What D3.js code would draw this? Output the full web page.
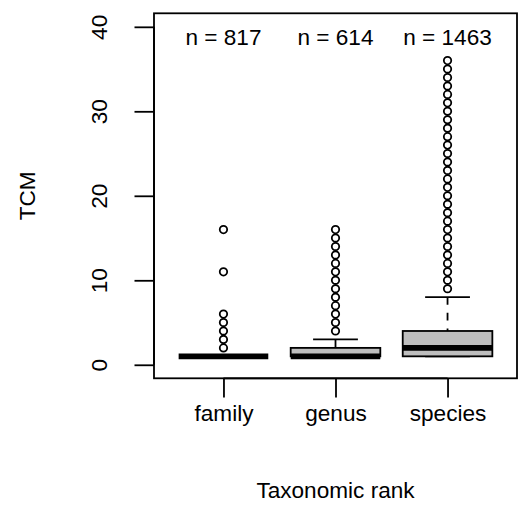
<!DOCTYPE html>
<html>
<head>
<meta charset="utf-8">
<script src="https://cdn.jsdelivr.net/npm/d3@7"></script>
<style>
  html, body { margin: 0; padding: 0; background: #fff; }
  svg { display: block; }
  text { font-family: "Liberation Sans", Arial, Helvetica, sans-serif; fill: #000; }
</style>
</head>
<body>
<svg id="chart" width="519" height="528"></svg>
<script>
// ---- data ----
const categories = ["family", "genus", "species"];
const counts = [817, 614, 1463];
const whiskerLow = [1, 1, 1];
const q1 = [1, 1, 1];
const median = [1, 1, 2];
const q3 = [1, 2, 4];
const whiskerHigh = [1, 3, 8];
const outliers = [
  [2, 3, 4, 5, 6, 11, 16],
  [4, 5, 6, 7, 8, 9, 10, 11, 12, 13, 14, 15, 16],
  [9, 10, 11, 12, 13, 14, 15, 16, 17, 18, 19, 20, 21, 22, 23, 24, 25, 26, 27, 28, 29, 30, 31, 32, 33, 34, 35, 36]
];
const yTicks = [0, 10, 20, 30, 40];
const xLabel = "Taxonomic rank";
const yLabel = "TCM";

// ---- layout ----
const W = 519, H = 528;
const plot = { left: 154, right: 517, top: 13.3, bottom: 378.3 };
const fontSize = 22.6;

const svg = d3.select("#chart");

// R-style 4% extended ranges
const x = d3.scaleLinear().domain([0.38, 3.62]).range([plot.left, plot.right]);
const y = d3.scaleLinear().domain([-1.6, 41.6]).range([plot.bottom, plot.top]);

const lw = 1.8;
const boxW = 0.8, stapleW = 0.4;

const groups = categories.map((c, i) => ({
  name: c, pos: i + 1, n: counts[i],
  lo: whiskerLow[i], q1: q1[i], med: median[i], q3: q3[i], hi: whiskerHigh[i],
  out: outliers[i]
}));

const g = svg.append("g");

groups.forEach(d => {
  const gg = g.append("g");
  // upper whisker (dashed), drawn from whisker end toward box
  if (d.hi > d.q3) {
    gg.append("line")
      .attr("x1", x(d.pos)).attr("x2", x(d.pos))
      .attr("y1", y(d.hi)).attr("y2", y(d.q3))
      .attr("stroke", "#000").attr("stroke-width", lw)
      .attr("stroke-dasharray", "7.6,8");
  }
  if (d.lo < d.q1) {
    gg.append("line")
      .attr("x1", x(d.pos)).attr("x2", x(d.pos))
      .attr("y1", y(d.lo)).attr("y2", y(d.q1))
      .attr("stroke", "#000").attr("stroke-width", lw)
      .attr("stroke-dasharray", "7.6,8");
  }
  // staples
  [d.lo, d.hi].forEach(v => {
    gg.append("line")
      .attr("x1", x(d.pos - stapleW / 2)).attr("x2", x(d.pos + stapleW / 2))
      .attr("y1", y(v)).attr("y2", y(v))
      .attr("stroke", "#000").attr("stroke-width", lw);
  });
  // box
  gg.append("rect")
    .attr("x", x(d.pos - boxW / 2))
    .attr("width", x(d.pos + boxW / 2) - x(d.pos - boxW / 2))
    .attr("y", y(d.q3))
    .attr("height", Math.max(0, y(d.q1) - y(d.q3)))
    .attr("fill", "#bebebe").attr("stroke", "#000").attr("stroke-width", lw);
  // median
  gg.append("line")
    .attr("x1", x(d.pos - boxW / 2)).attr("x2", x(d.pos + boxW / 2))
    .attr("y1", y(d.med)).attr("y2", y(d.med))
    .attr("stroke", "#000").attr("stroke-width", 5.6);
  // outliers
  gg.selectAll("circle").data(d.out).join("circle")
    .attr("cx", x(d.pos)).attr("cy", v => y(v)).attr("r", 3.7)
    .attr("fill", "none").attr("stroke", "#000").attr("stroke-width", 1.8);
  // n label
  gg.append("text")
    .attr("x", x(d.pos)).attr("y", 45)
    .attr("text-anchor", "middle").attr("font-size", fontSize)
    .text("n = " + d.n);
});

// frame
svg.append("rect")
  .attr("x", plot.left).attr("y", plot.top)
  .attr("width", plot.right - plot.left).attr("height", plot.bottom - plot.top)
  .attr("fill", "none").attr("stroke", "#000").attr("stroke-width", lw);

// y axis
const yAxis = svg.append("g")
  .attr("transform", `translate(${plot.left},0)`)
  .call(d3.axisLeft(y).tickValues(yTicks).tickSize(19.5).tickSizeOuter(0).tickFormat(d3.format("d")));
yAxis.select(".domain").attr("d", `M0,${y(yTicks[0])}V${y(yTicks[yTicks.length - 1])}`)
  .attr("stroke", "#000").attr("stroke-width", lw);
yAxis.selectAll(".tick line").attr("stroke", "#000").attr("stroke-width", lw);
yAxis.selectAll(".tick text")
  .attr("font-size", fontSize).attr("font-family", null)
  .attr("x", null).attr("dy", null)
  .attr("text-anchor", "middle")
  .attr("transform", `translate(${106.7 - plot.left},0) rotate(-90)`);

// x axis
const xAxis = svg.append("g")
  .attr("transform", `translate(0,${plot.bottom})`)
  .call(d3.axisBottom(x).tickValues(groups.map(d => d.pos)).tickSize(19.3).tickSizeOuter(0)
    .tickFormat((v, i) => categories[i]));
xAxis.select(".domain").attr("d", `M${x(1)},0H${x(3)}`)
  .attr("stroke", "#000").attr("stroke-width", lw);
xAxis.selectAll(".tick line").attr("stroke", "#000").attr("stroke-width", lw);
xAxis.selectAll(".tick text")
  .attr("font-size", fontSize).attr("font-family", null)
  .attr("y", 421 - plot.bottom).attr("dy", null);

// axis titles
svg.append("text")
  .attr("x", (plot.left + plot.right) / 2).attr("y", 498)
  .attr("text-anchor", "middle").attr("font-size", fontSize)
  .text(xLabel);
svg.append("text")
  .attr("transform", `translate(35,${(plot.top + plot.bottom) / 2}) rotate(-90)`)
  .attr("text-anchor", "middle").attr("font-size", fontSize)
  .text(yLabel);
</script>
</body>
</html>
